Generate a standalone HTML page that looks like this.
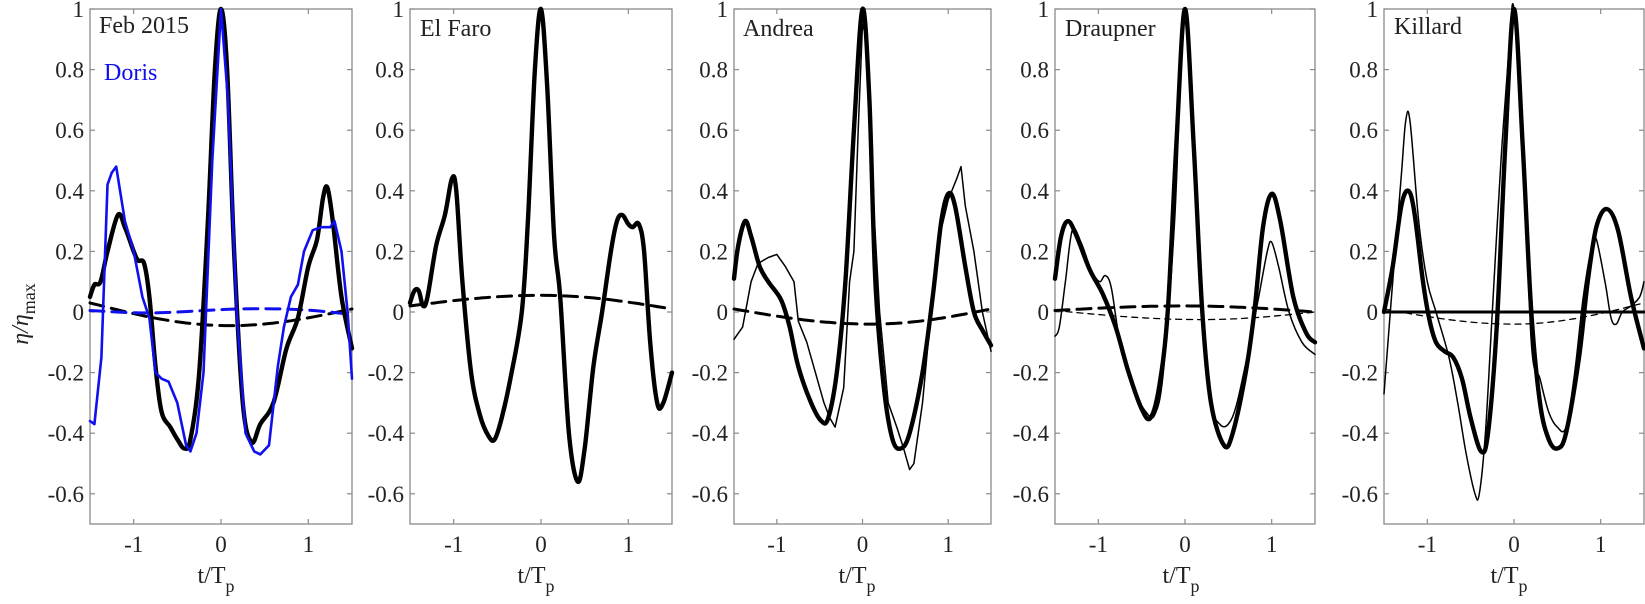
<!DOCTYPE html>
<html><head><meta charset="utf-8"><style>
html,body{margin:0;padding:0;background:#fff;}
svg{display:block;font-family:"Liberation Serif",serif;}
</style></head><body>
<svg id="s" width="1645" height="604" viewBox="0 0 1645 604" xmlns="http://www.w3.org/2000/svg">
<g id="axes"></g>
<g font-size="24" fill="#222">
<text x="28" y="314" transform="rotate(-90 28 314)" text-anchor="middle" font-style="italic">η/η<tspan font-style="normal" font-size="18" dy="7">max</tspan></text>
<text x="216" y="583" text-anchor="middle">t/T<tspan font-size="18" dy="9">p</tspan></text>
<text x="536" y="583" text-anchor="middle">t/T<tspan font-size="18" dy="9">p</tspan></text>
<text x="857" y="583" text-anchor="middle">t/T<tspan font-size="18" dy="9">p</tspan></text>
<text x="1181" y="583" text-anchor="middle">t/T<tspan font-size="18" dy="9">p</tspan></text>
<text x="1509" y="583" text-anchor="middle">t/T<tspan font-size="18" dy="9">p</tspan></text>
<text x="99" y="33">Feb 2015</text>
<text x="104" y="80" fill="#1010ee">Doris</text>
<text x="420" y="36">El Faro</text>
<text x="743" y="36">Andrea</text>
<text x="1065" y="36">Draupner</text>
<text x="1394" y="34">Killard</text>
</g>
<g id="ticklabels" font-size="23" fill="#222"></g>
<g id="curves" fill="none" stroke-linejoin="round" stroke-linecap="round"></g>
</svg>
<script>
var P=[[90,352],[410,672],[734,991],[1055,1315],[1384,1644]];
var T=9,B=524,Y0=312,K=303;
var NS="http://www.w3.org/2000/svg";
function el(par,tag,a){var e=document.createElementNS(NS,tag);for(var k in a)e.setAttribute(k,a[k]);par.appendChild(e);return e;}
var ax=document.getElementById('axes'),tl=document.getElementById('ticklabels'),cv=document.getElementById('curves');
var labs=['1','0.8','0.6','0.4','0.2','0','-0.2','-0.4','-0.6'];
P.forEach(function(p){
 var L=p[0],R=p[1],c=(L+R)/2,u=(R-L)/3;
 el(ax,'rect',{x:L,y:T,width:R-L,height:B-T,fill:'none',stroke:'#8a8a8a','stroke-width':1.3});
 for(var i=0;i<9;i++){var y=Y0-(1-i*0.2)*K;
  el(ax,'line',{x1:L,x2:L+5,y1:y,y2:y,stroke:'#8a8a8a','stroke-width':1.2});
  el(ax,'line',{x1:R,x2:R-5,y1:y,y2:y,stroke:'#8a8a8a','stroke-width':1.2});
  var t=el(tl,'text',{x:L-6,y:y+8,'text-anchor':'end'});t.textContent=labs[i];}
 [-1,0,1].forEach(function(v){var x=c+v*u;
  el(ax,'line',{x1:x,x2:x,y1:B,y2:B-5,stroke:'#8a8a8a','stroke-width':1.2});
  el(ax,'line',{x1:x,x2:x,y1:T,y2:T+5,stroke:'#8a8a8a','stroke-width':1.2});
  var t=el(tl,'text',{x:x,y:B+28,'text-anchor':'middle'});t.textContent=String(v);});
});
function pts(pi,d){var L=P[pi][0],R=P[pi][1],c=(L+R)/2,u=(R-L)/3;return d.map(function(q){return [c+q[0]*u,Y0-q[1]*K];});}
function cr(p){var s='M'+p[0][0].toFixed(1)+' '+p[0][1].toFixed(1);
 for(var i=0;i<p.length-1;i++){var p0=p[i-1]||p[i],p1=p[i],p2=p[i+1],p3=p[i+2]||p2;
  s+=' C'+(p1[0]+(p2[0]-p0[0])/6).toFixed(1)+' '+(p1[1]+(p2[1]-p0[1])/6).toFixed(1)+' '+(p2[0]-(p3[0]-p1[0])/6).toFixed(1)+' '+(p2[1]-(p3[1]-p1[1])/6).toFixed(1)+' '+p2[0].toFixed(1)+' '+p2[1].toFixed(1);}
 return s;}
function lin(p){return 'M'+p.map(function(q){return q[0].toFixed(1)+' '+q[1].toFixed(1)}).join(' L');}
function draw(pi,d,w,col,dash,smooth){var p=pts(pi,d);var a={d:smooth===false?lin(p):cr(p),stroke:col||'#000','stroke-width':w};if(dash)a['stroke-dasharray']=dash;el(cv,'path',a);}
function bow(a,m,tm,b){var r=[];for(var t=-1.5;t<=1.501;t+=0.1){var y;if(t<tm){var f=(t+1.5)/(tm+1.5);y=a+(m-a)*Math.sin(f*Math.PI/2);}else{var f=(t-tm)/(1.5-tm);y=m+(b-m)*(1-Math.cos(f*Math.PI/2));}r.push([t,y]);}return r;}
// Panel 1
draw(0,bow(0.03,-0.045,0.1,0.01),3,'#000','14 8');
draw(0,[[-1.5,0.005],[-0.8,-0.003],[0.2,0.01],[0.9,0.008],[1.5,-0.008]],3,'#1010ee','14 8');
draw(0,[[-1.5,0.05],[-1.45,0.09],[-1.38,0.1],[-1.3,0.2],[-1.18,0.32],[-1.1,0.28],[-1.0,0.2],[-0.95,0.17],[-0.88,0.16],[-0.82,0.05],[-0.75,-0.18],[-0.68,-0.33],[-0.58,-0.38],[-0.5,-0.42],[-0.42,-0.45],[-0.35,-0.42],[-0.25,-0.2],[-0.15,0.3],[-0.07,0.8],[0,1.0],[0.07,0.8],[0.15,0.2],[0.25,-0.3],[0.35,-0.43],[0.45,-0.37],[0.6,-0.3],[0.75,-0.12],[0.88,-0.02],[1.0,0.15],[1.1,0.24],[1.17,0.38],[1.22,0.41],[1.28,0.3],[1.38,0.05],[1.5,-0.12]],4.4);
draw(0,[[-1.5,-0.36],[-1.45,-0.37],[-1.37,-0.15],[-1.3,0.42],[-1.25,0.46],[-1.2,0.48],[-1.1,0.3],[-1.0,0.2],[-0.9,0.05],[-0.82,-0.02],[-0.75,-0.2],[-0.68,-0.22],[-0.6,-0.23],[-0.5,-0.3],[-0.4,-0.44],[-0.35,-0.46],[-0.28,-0.4],[-0.2,-0.2],[-0.1,0.5],[0,1.0],[0.08,0.7],[0.18,0.0],[0.28,-0.4],[0.38,-0.46],[0.45,-0.47],[0.55,-0.44],[0.65,-0.18],[0.72,-0.05],[0.8,0.05],[0.88,0.09],[0.95,0.2],[1.05,0.27],[1.15,0.28],[1.25,0.28],[1.3,0.3],[1.38,0.2],[1.45,0.0],[1.5,-0.22]],2.6,'#1010ee',null,false);
// Panel 2
draw(1,bow(0.02,0.055,0.0,0.01),3,'#000','14 8');
draw(1,[[-1.5,0.03],[-1.45,0.07],[-1.4,0.07],[-1.35,0.02],[-1.3,0.05],[-1.2,0.22],[-1.1,0.32],[-1.02,0.44],[-0.97,0.4],[-0.9,0.1],[-0.8,-0.2],[-0.7,-0.34],[-0.6,-0.41],[-0.53,-0.42],[-0.45,-0.35],[-0.35,-0.22],[-0.22,0],[-0.15,0.3],[-0.07,0.8],[0,1.0],[0.07,0.75],[0.15,0.25],[0.22,0.05],[0.32,-0.4],[0.42,-0.56],[0.5,-0.45],[0.6,-0.18],[0.7,0.0],[0.8,0.2],[0.87,0.3],[0.93,0.32],[1.0,0.29],[1.05,0.28],[1.12,0.29],[1.18,0.2],[1.25,-0.1],[1.33,-0.3],[1.4,-0.3],[1.5,-0.2]],4.4);
// Panel 3
draw(2,bow(0.01,-0.04,0.1,0.01),3,'#000','14 8');
draw(2,[[-1.5,-0.09],[-1.4,-0.05],[-1.3,0.1],[-1.22,0.16],[-1.1,0.18],[-1.0,0.19],[-0.9,0.15],[-0.8,0.1],[-0.75,-0.03],[-0.65,-0.1],[-0.55,-0.2],[-0.45,-0.3],[-0.38,-0.35],[-0.32,-0.38],[-0.22,-0.25],[-0.15,0.1],[-0.1,0.2],[-0.05,0.6],[0,0.95],[0.05,0.9],[0.12,0.4],[0.2,0.0],[0.3,-0.3],[0.4,-0.38],[0.48,-0.45],[0.55,-0.52],[0.6,-0.5],[0.7,-0.3],[0.8,0.0],[0.9,0.25],[1.0,0.37],[1.1,0.44],[1.15,0.48],[1.2,0.35],[1.3,0.2],[1.4,0.0],[1.5,-0.13]],1.5,'#000',null,false);
draw(2,[[-1.5,0.11],[-1.45,0.22],[-1.37,0.3],[-1.3,0.25],[-1.2,0.15],[-1.1,0.1],[-0.95,0.04],[-0.85,-0.05],[-0.75,-0.18],[-0.6,-0.3],[-0.48,-0.36],[-0.4,-0.35],[-0.3,-0.2],[-0.2,0.1],[-0.1,0.6],[0,1.0],[0.08,0.7],[0.15,0.1],[0.25,-0.25],[0.35,-0.42],[0.45,-0.45],[0.55,-0.4],[0.7,-0.2],[0.82,0.05],[0.92,0.3],[1.0,0.39],[1.08,0.35],[1.2,0.15],[1.3,0.0],[1.4,-0.06],[1.5,-0.11]],4.4);
// Panel 4
draw(3,bow(0.005,0.02,0.0,0.0),3,'#000','14 8');
draw(3,bow(0.005,-0.025,0.2,0.0),1.3,'#000','6 5');
draw(3,[[-1.5,-0.08],[-1.45,-0.05],[-1.38,0.1],[-1.3,0.27],[-1.2,0.23],[-1.1,0.15],[-1.05,0.12],[-0.98,0.1],[-0.92,0.12],[-0.85,0.08],[-0.75,-0.1],[-0.6,-0.25],[-0.45,-0.33],[-0.35,-0.34],[-0.25,-0.2],[-0.12,0.3],[-0.05,0.8],[0,0.97],[0.1,0.6],[0.2,0.0],[0.3,-0.3],[0.4,-0.37],[0.5,-0.37],[0.6,-0.3],[0.75,-0.1],[0.85,0.05],[0.95,0.2],[1.0,0.23],[1.08,0.15],[1.2,0.0],[1.35,-0.1],[1.5,-0.14]],1.5);
draw(3,[[-1.5,0.11],[-1.43,0.25],[-1.35,0.3],[-1.25,0.25],[-1.1,0.14],[-0.95,0.06],[-0.8,-0.05],[-0.65,-0.2],[-0.5,-0.32],[-0.4,-0.35],[-0.3,-0.25],[-0.2,0.0],[-0.1,0.55],[0,1.0],[0.1,0.55],[0.2,0.0],[0.3,-0.3],[0.45,-0.44],[0.55,-0.4],[0.7,-0.2],[0.8,0.0],[0.9,0.28],[1.0,0.39],[1.1,0.3],[1.25,0.05],[1.4,-0.07],[1.5,-0.1]],4.4);
// Panel 5
draw(4,bow(0.01,-0.04,0.0,0.03),1.3,'#000','6 5');
draw(4,[[-1.5,0],[1.5,0]],3,'#000',null,false);
draw(4,[[-1.5,-0.27],[-1.4,0.1],[-1.3,0.45],[-1.25,0.63],[-1.2,0.63],[-1.1,0.3],[-1.0,0.1],[-0.9,0.0],[-0.75,-0.15],[-0.65,-0.3],[-0.55,-0.47],[-0.45,-0.6],[-0.4,-0.6],[-0.33,-0.4],[-0.25,0.0],[-0.15,0.5],[-0.05,0.9],[0,1.0],[0.1,0.6],[0.2,-0.1],[0.3,-0.22],[0.4,-0.33],[0.5,-0.38],[0.6,-0.38],[0.7,-0.2],[0.8,0.05],[0.9,0.22],[0.95,0.24],[1.05,0.1],[1.12,-0.02],[1.18,-0.04],[1.25,0.0],[1.35,0.02],[1.45,0.05],[1.5,0.1]],1.5);
draw(4,[[-1.5,0],[-1.4,0.15],[-1.3,0.35],[-1.22,0.4],[-1.15,0.33],[-1.05,0.1],[-0.98,-0.02],[-0.9,-0.1],[-0.8,-0.13],[-0.7,-0.15],[-0.6,-0.22],[-0.5,-0.35],[-0.38,-0.46],[-0.3,-0.4],[-0.2,-0.05],[-0.1,0.55],[0,1.0],[0.1,0.55],[0.2,0.0],[0.3,-0.3],[0.4,-0.42],[0.5,-0.45],[0.6,-0.4],[0.75,-0.15],[0.85,0.1],[0.95,0.28],[1.07,0.34],[1.2,0.27],[1.35,0.05],[1.5,-0.12]],4.4);
</script>
</body></html>
